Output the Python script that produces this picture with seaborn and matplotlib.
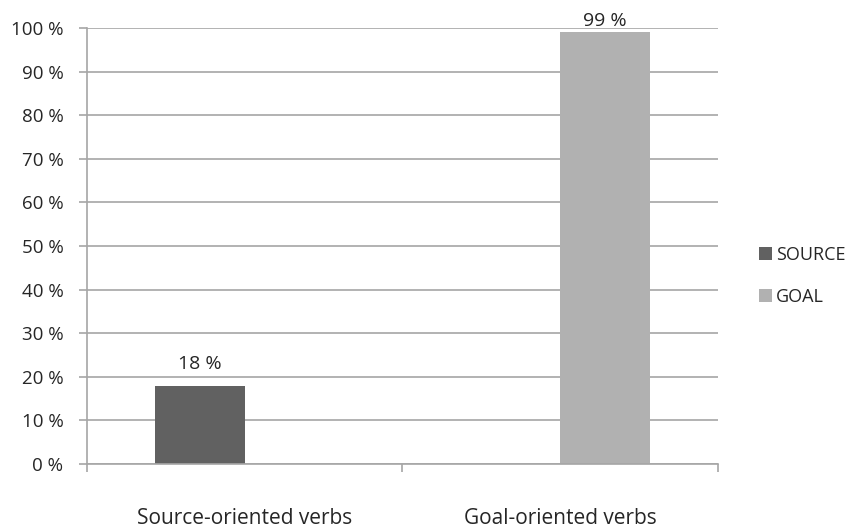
import matplotlib
matplotlib.use("Agg")
import matplotlib.pyplot as plt
from matplotlib.ticker import FixedLocator, MultipleLocator, FuncFormatter
import seaborn as sns
import pandas as pd

# Share of verbs per orientation type (percent)
categories = ["Source-oriented verbs", "Goal-oriented verbs"]
series_names = ["SOURCE", "GOAL"]
source_share = [18, 0]
goal_share = [0, 99]

series_colors = ["#616161", "#b1b1b1"]
grid_color = "#a6a6a6"
text_color = "#262626"

sns.set_theme(style="white")
plt.rcParams["font.family"] = ["Open Sans", "DejaVu Sans"]

df = pd.DataFrame({
    "category": categories * 2,
    "series": [series_names[0]] * len(categories) + [series_names[1]] * len(categories),
    "share": source_share + goal_share,
})

fig = plt.figure(figsize=(8.51, 5.31), dpi=100)
ax = fig.add_axes([0.1022, 0.1262, 0.7415, 0.8211])

sns.barplot(data=df, x="category", y="share", hue="series",
            order=categories, hue_order=series_names,
            palette=series_colors, width=0.57, gap=0,
            edgecolor="none", linewidth=0, ax=ax, legend=True)

ax.set_xlim(-0.5, 1.5)
ax.set_ylim(0, 100)

# value labels above visible bars, kept inside the plotting area
for container in ax.containers:
    for patch, value in zip(container.patches, container.datavalues):
        if value <= 0:
            continue
        x = patch.get_x() + patch.get_width() / 2
        y = min(value + 3.7, 100.5)
        ax.text(x, y, f"{value:.0f} %", ha="center", va="baseline",
                fontsize=14, color=text_color)

ax.yaxis.set_major_locator(MultipleLocator(10))
ax.yaxis.set_major_formatter(FuncFormatter(lambda v, _: f"{v:.0f} %"))
ax.grid(axis="y", color=grid_color, linewidth=1.2)
ax.set_axisbelow(True)

ax.set_xlabel("")
ax.set_ylabel("")

for side in ["top", "right"]:
    ax.spines[side].set_visible(False)
for side in ["left", "bottom"]:
    ax.spines[side].set_color(grid_color)
    ax.spines[side].set_linewidth(1.2)

ax.tick_params(axis="y", which="major", left=True, length=6, width=1.2,
               color=grid_color, labelsize=13.5, labelcolor=text_color, pad=11)
ax.tick_params(axis="x", which="major", bottom=False, labelsize=15,
               labelcolor=text_color, pad=26)
ax.xaxis.set_minor_locator(FixedLocator([-0.5, 0.5, 1.5]))
ax.tick_params(axis="x", which="minor", bottom=True, length=6, width=1.2,
               color=grid_color, direction="out")

leg = ax.legend(loc="center left", bbox_to_anchor=(0.873, 0.481),
                bbox_transform=fig.transFigure, frameon=False,
                fontsize=13, handlelength=0.72, handleheight=0.72,
                handletextpad=0.22, labelspacing=1.33, labelcolor=text_color)

fig.savefig("out.png", dpi=100, facecolor="white")
